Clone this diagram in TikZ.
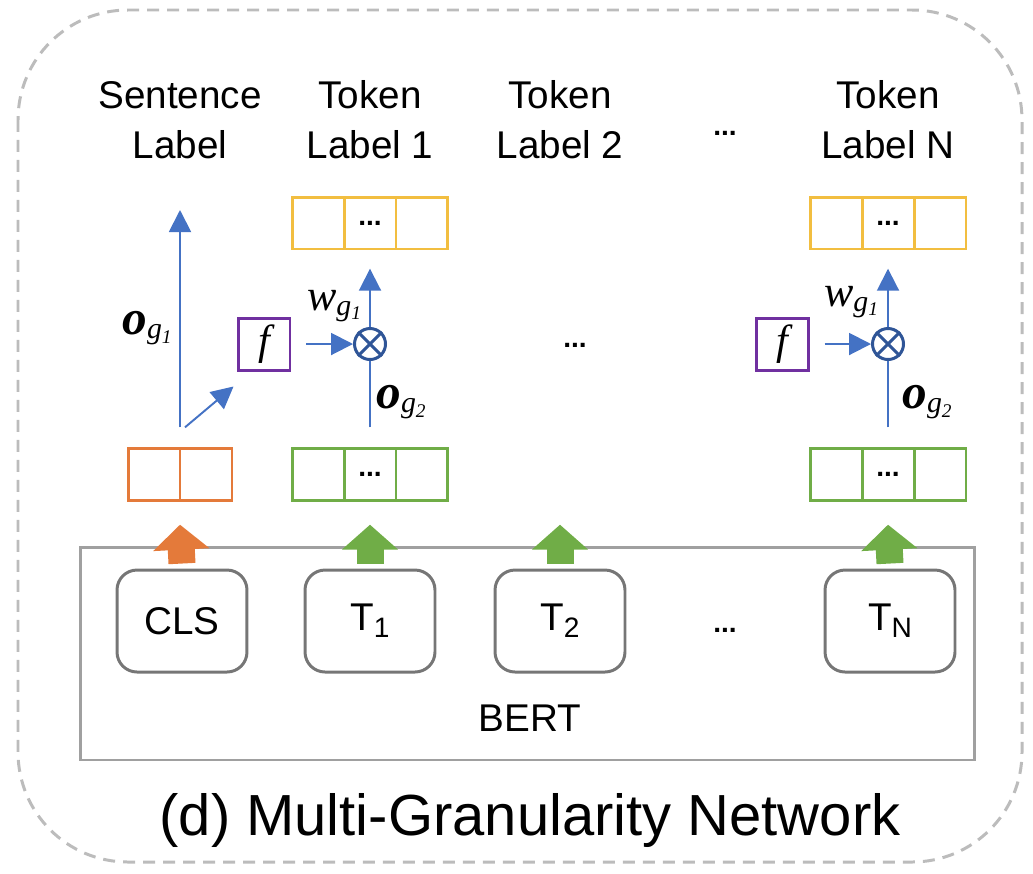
\documentclass[tikz,border=0pt]{standalone}
\usepackage{fontspec}
\setmainfont{Liberation Sans}
\newfontfamily\serif{Liberation Serif}
\usetikzlibrary{matrix,positioning,calc,arrows.meta}

\definecolor{arrblue}{RGB}{68,114,196}
\definecolor{otblue}{RGB}{47,85,151}
\definecolor{yel}{RGB}{242,190,64}
\definecolor{grn}{RGB}{112,173,71}
\definecolor{orng}{RGB}{228,122,58}
\definecolor{purp}{RGB}{112,48,160}
\definecolor{tokgray}{RGB}{118,118,118}
\definecolor{bertgray}{RGB}{160,160,160}
\definecolor{dashgray}{RGB}{188,188,188}

% bold italic o with a g subscript
\newcommand{\ovec}[1]{{\serif\bfseries\itshape\fontsize{28}{28}\selectfont o}\raisebox{-0.45ex}{\serif\itshape\fontsize{17}{17}\selectfont g\raisebox{-0.35ex}{\fontsize{11}{11}\selectfont #1}}}
\newcommand{\wvec}{{\serif\itshape\fontsize{25}{25}\selectfont w}\raisebox{-0.45ex}{\serif\itshape\fontsize{17}{17}\selectfont g\raisebox{-0.35ex}{\fontsize{11}{11}\selectfont 1}}}
\newcommand{\tsub}[1]{T\raisebox{-0.35ex}{\fontsize{16}{16}\selectfont #1}}

\begin{document}
\begin{tikzpicture}[x=0.02cm, y=-0.02cm,
    lbl/.style={align=center, font=\fontsize{22}{28.5}\selectfont},
    vec/.style={matrix of nodes, nodes in empty cells, column sep=-1.7pt,
      nodes={draw=#1, line width=1.7pt, minimum width=1.04cm, minimum height=1.04cm,
        inner sep=0pt, anchor=center, font=\bfseries\fontsize{16}{16}\selectfont}},
    tok/.style={draw=tokgray, line width=1.7pt, rounded corners=0.4cm,
      minimum width=2.6cm, minimum height=2.04cm, font=\fontsize{22}{22}\selectfont},
    flow/.style={draw=arrblue, line width=1.1pt, -{Triangle[width=0.44cm,length=0.44cm]}},
    fatarrow/.style={draw=#1, line width=0.54cm, -{Triangle[width=1.1cm,length=0.5cm]}},
    otimes/.style={draw=otblue, line width=1.7pt, circle, minimum size=0.62cm, inner sep=0pt},
    fbox/.style={draw=purp, line width=1.7pt, minimum size=1.04cm, inner sep=0pt,
      font=\serif\itshape\fontsize{24}{24}\selectfont},
    dotsty/.style={font=\bfseries\fontsize{16}{16}\selectfont}]
  \useasboundingbox (0,0) rectangle (1033,873);
  \draw[dashgray, line width=1.7pt, dash pattern=on 0.24cm off 0.16cm, rounded corners=2.2cm]
    (18,10) rectangle (1022,862);

  % BERT block
  \node[draw=bertgray, line width=1.7pt, minimum width=17.9cm, minimum height=4.26cm] (bert) at (527.5,653.5) {};
  \node[font=\fontsize{22}{22}\selectfont] (berttxt) at (530,718) {BERT};
  \node[tok] (cls) at (182,621) {CLS};
  \node[tok] (t1) at (370,621) {\tsub{1}};
  \node[tok] (t2) at (560,621) {\tsub{2}};
  \node[dotsty] (tdots) at (725,630) {...};
  \node[tok] (tn) at (890,621) {\tsub{N}};

  % output vectors
  \matrix (ov) [vec=orng] at (180,474) {& \\};
  \matrix (g1) [vec=grn] at (370,474) {& ... & \\};
  \matrix (gn) [vec=grn] at (888,474) {& ... & \\};
  \matrix (y1) [vec=yel] at (370,223) {& ... & \\};
  \matrix (yn) [vec=yel] at (888,223) {& ... & \\};

  \draw[fatarrow=orng] ([yshift=0.1cm]cls.north) -- ([yshift=-0.34cm]ov.south);
  \draw[fatarrow=grn] ([yshift=0.1cm]t1.north) -- ([yshift=-0.34cm]g1.south);
  \draw[fatarrow=grn] ([yshift=0.1cm]t2.north) -- ([yshift=-0.34cm]t2.north |- g1.south);
  \draw[fatarrow=grn] ([yshift=0.1cm]tn.north) -- ([yshift=-0.34cm]gn.south);

  % labels on top
  \node[lbl] (sent) at (180,120) {Sentence\\Label};
  \node[lbl] (tl1) at (370,120) {Token\\Label 1};
  \node[lbl] (tl2) at (560,120) {Token\\Label 2};
  \node[dotsty] (ldots) at (725,133) {...};
  \node[lbl] (tln) at (888,120) {Token\\Label N};
  \coordinate (stip) at (180,210);

  % sentence branch
  \node[fbox] (f1) at (264,344) {f};
  \node[otimes] (ot1) at (370,344) {};
  \draw[otblue, line width=1.7pt] (ot1.45) -- (ot1.225) (ot1.135) -- (ot1.315);
  \draw[flow] ([yshift=0.26cm]ov.north) -- (stip);
  \draw[flow] ([xshift=0.1cm,yshift=0.26cm]ov.north) -- ([xshift=-0.06cm,yshift=-0.3cm]f1.south west);
  \draw[flow] ([xshift=0.3cm]f1.east) -- (ot1.west);
  \draw[draw=arrblue, line width=1.1pt] ([yshift=0.26cm]g1.north) -- (ot1.south);
  \draw[flow] (ot1.north) -- ([yshift=-0.24cm]y1.south);
  \node (og1) at (147,328) {\ovec{1}};
  \node (w1) at (334,306) {\wvec};
  \node (og2) at (401,402) {\ovec{2}};

  \node[dotsty] (mdots) at (575,345) {...};

  % token N branch
  \node[fbox] (fn) at (782,344) {f};
  \node[otimes] (otn) at (888,344) {};
  \draw[otblue, line width=1.7pt] (otn.45) -- (otn.225) (otn.135) -- (otn.315);
  \draw[flow] ([xshift=0.3cm]fn.east) -- (otn.west);
  \draw[draw=arrblue, line width=1.1pt] ([yshift=0.26cm]gn.north) -- (otn.south);
  \draw[flow] (otn.north) -- ([yshift=-0.24cm]yn.south);
  \node (wn) at (851,302) {\wvec};
  \node (ogn) at (927,402) {\ovec{2}};

  \node[font=\fontsize{33}{33}\selectfont] (title) at (530,820) {(d) Multi-Granularity Network};
\end{tikzpicture}
\end{document}
